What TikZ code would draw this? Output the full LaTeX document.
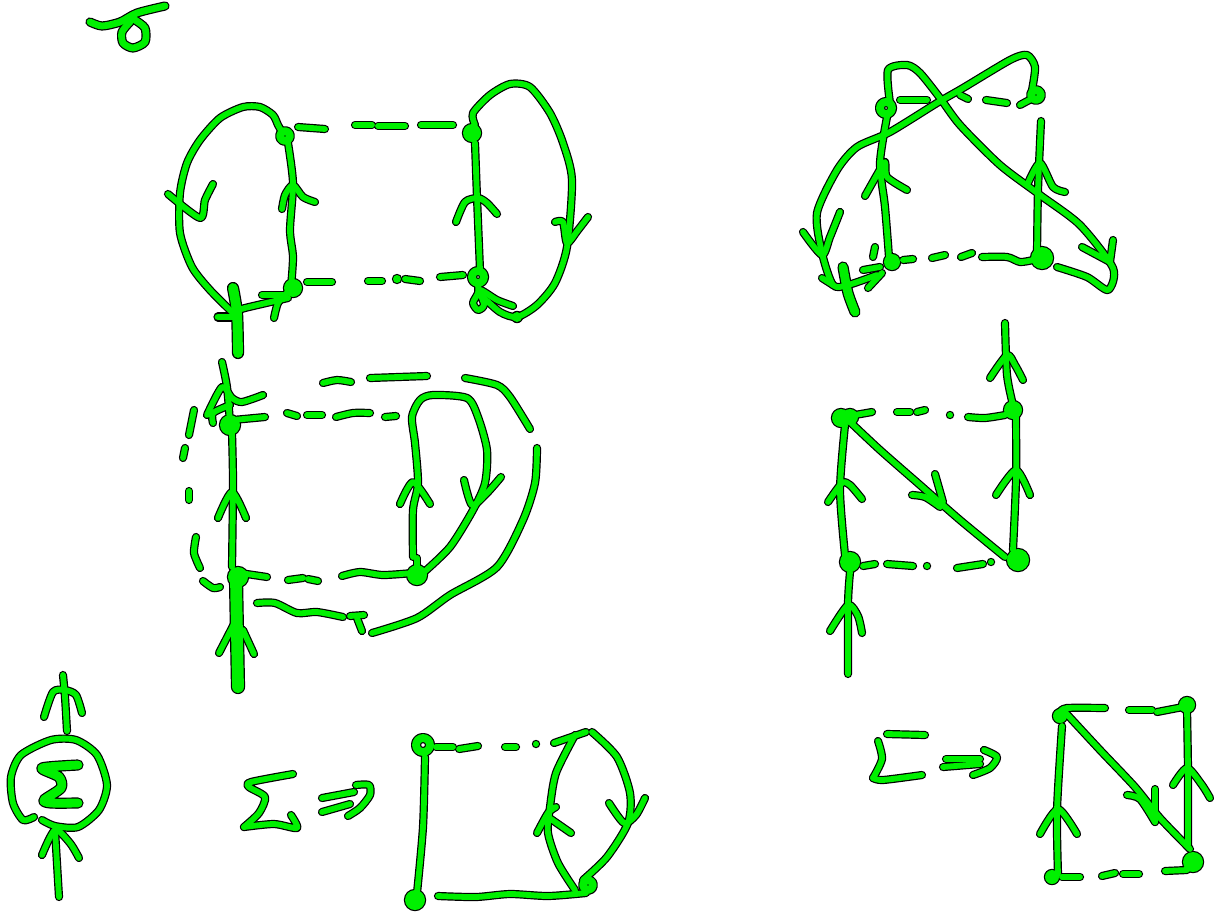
\documentclass[tikz,border=0pt]{standalone}
\definecolor{inkgreen}{RGB}{0,240,0}
\newcommand\skline[2][0]{\draw[line width=\skw+#1pt] plot[smooth,tension=.45] coordinates {#2};}
\newcommand\skblob[3]{\fill (#1,#2) circle[radius=#3pt+\skx];}
\newcommand\skring[3]{\draw[line width=\skw+2pt] (#1,#2) circle[radius=#3pt];}
\newcommand\skall{%
% top mark
\skline[1]{(90,22)(102,26)(120,22)(137,13)(165,6)}
\skline[1]{(130,22)(122,32)(123,43)(133,48)(145,42)(145,28)(135,20)}
% upper left diagram
\skline{(282,132)(278,125)(273,115)(260,107)(243,107)(220,118)(200,140)(187,163)(180,193)(180,233)(192,267)(210,290)(233,313)}
\skline{(168,194)(200,218)(205,200)(213,184)}
\skring{285}{136}{5}
\skline{(288,143)(293,183)(290,230)(293,257)(291,287)}
\skline{(282,209)(285,195)(293,185)(303,197)(315,202)}
\skline{(298,127)(325,129)}\skline{(355,125)(372,125)}\skline{(378,126)(405,126)}\skline{(421,125)(453,125)}
\skblob{472}{133}{9}
\skline{(475,125)(473,113)(490,95)(510,84)(530,87)(550,113)(563,143)(572,180)(567,247)(555,283)(537,305)(517,317)(500,312)(483,297)}
\skline{(555,222)(563,222)(567,243)(578,230)(588,217)}
\skline{(475,143)(477,197)(480,270)}
\skline{(456,222)(465,202)(478,198)(487,203)(497,214)}
\skline{(307,282)(332,282)}\skline{(368,281)(382,281)}\skblob{397}{279}{4}\skline{(405,279)(420,281)}\skline{(440,277)(463,275)}
\skblob{293}{288}{9}
\skring{478}{277}{6}
\skline{(478,285)(478,293)(473,303)(478,310)(484,305)(480,290)(497,300)(513,306)}
\skblob{517}{317}{5}
\skline{(233,312)(245,308)(288,298)}
\skline{(262,295)(283,295)}\skline{(274,318)(278,303)(287,293)}
\skline[4]{(233,288)(237,313)(238,353)}
\skline[1]{(218,317)(237,317)}
% middle left diagram
\skline{(222,362)(227,387)(230,423)}
\skline{(207,415)(222,387)(232,398)(242,402)(263,395)}
\skline{(213,423)(213,413)(230,405)}
\skblob{230}{425}{10}
\skline{(233,420)(265,417)}
\skline{(287,413)(297,416)}\skline{(307,415)(322,415)}\skline{(336,417)(353,413)(370,413)}\skline{(385,417)(396,416)}
\skline{(232,433)(233,483)(232,567)}
\skline{(218,518)(232,492)(246,518)}
\skblob{238}{577}{10}
\skline{(240,573)(267,577)}
\skline[6]{(236,580)(238,687)}
\skline{(219,653)(235,622)}\skline{(243,630)(254,654)}
\skline{(288,580)(303,578)}\skline{(308,579)(318,581)}\skline{(342,576)(360,572)(383,575)(413,573)}
\skblob{417}{575}{10}
\skline{(413,557)(413,510)(418,483)(415,443)(412,417)(420,400)(433,395)(467,398)(478,417)(487,450)(485,483)(473,510)(450,547)(423,573)}
\skline{(400,504)(413,482)(430,504)}
\skline{(464,480)(472,505)(487,493)(501,477)}
\skline{(417,558)(417,575)}
\skline{(323,383)(337,380)(351,382)}\skline{(370,378)(427,376)}
\skline{(465,378)(497,385)(510,397)(530,429)}
\skline{(537,448)(535,483)(523,520)(497,567)(450,595)(417,618)(372,633)}
\skline{(257,603)(275,603)(297,613)(317,612)(343,617)}
\skline{(350,616)(364,615)}\skline{(357,618)(362,631)}
\skline{(194,410)(189,435)}\skline{(185,448)(183,458)}\skline{(189,491)(189,500)}
\skline{(196,537)(194,553)(200,568)}\skline{(203,581)(213,588)(220,587)}
% upper right diagram
\skline{(890,103)(888,70)(907,65)(920,73)(940,98)(960,125)(1000,165)(1040,195)(1080,225)(1113,268)(1108,290)(1087,277)(1057,267)}
\skblob{1042}{258}{11}
\skline{(1082,247)(1110,262)}\skline{(1113,240)(1110,262)}
\skline{(1032,90)(1035,67)(1027,55)(1010,60)(963,88)(937,103)(890,132)(857,147)(837,170)(817,213)(822,253)(833,285)(848,285)(877,275)}
\skline{(803,232)(822,255)(830,237)(840,212)}
\skline[3]{(843,267)(848,293)(855,312)}
\skline{(822,278)(833,285)}
\skline{(863,270)(880,267)}\skline{(868,288)(882,273)}
\skblob{892}{262}{8}
\skline{(875,247)(873,257)}
\skline{(887,117)(880,163)(885,207)(889,257)}
\skline{(865,196)(878,173)(885,162)(887,177)(907,190)}
\skring{886}{108}{6}
\skline{(900,100)(927,100)}\skline{(960,95)(968,99)}\skline{(986,100)(1007,103)}\skline{(1020,105)(1033,98)}
\skring{1036}{95}{5}
\skline{(1041,121)(1038,190)(1037,253)}
\skline{(1028,183)(1040,163)(1053,187)(1065,192)}
\skline{(903,260)(913,259)}\skline{(932,258)(945,255)}\skline{(961,257)(972,253)}\skline{(982,257)(1007,257)(1020,262)(1033,260)}
% middle right diagram
\skline{(1005,323)(1007,375)(1013,405)}
\skline{(990,378)(1007,355)(1015,365)(1023,380)}
\skblob{1013}{410}{9}
\skline{(1016,415)(1016,480)(1013,550)}
\skline{(996,495)(1016,470)(1030,495)}
\skblob{1018}{560}{11}
\skblob{841}{418}{9}\skblob{850}{417}{8}
\skline{(855,415)(872,412)}\skline{(897,412)(910,412)}\skline{(917,412)(925,410)}\skblob{950}{415}{3}\skline{(968,417)(985,418)(1005,415)}
\skline{(848,420)(880,450)(920,485)(960,520)(1005,557)}
\skline{(935,474)(943,502)}\skline{(912,495)(925,497)(940,507)}
\skline{(845,425)(840,490)(845,555)}
\skline{(828,502)(842,483)(850,485)(862,499)}
\skblob{850}{562}{10}
\skline{(863,566)(875,564)}\skline{(887,564)(913,566)}\skblob{927}{566}{3}\skline{(957,568)(983,564)}\skblob{991}{562}{3}
\skline{(850,572)(848,603)(848,674)}
\skline{(830,631)(848,605)(858,616)(862,633)}
% lower right
\skline{(887,734)(925,735)}
\skline{(878,741)(882,759)(873,778)}\skline{(873,778)(883,780)(922,775)}
\skline{(946,759)(980,759)}\skline{(943,767)(980,764)}
\skline{(984,750)(997,757)(990,768)(973,775)}
\skblob{1060}{716}{7}
\skline{(1060,712)(1067,708)(1105,708)}\skline{(1129,710)(1152,710)}\skline{(1157,712)(1183,707)}
\skblob{1187}{705}{8}
\skline{(1062,726)(1057,810)(1058,874)}
\skline{(1040,834)(1058,809)(1077,834)}
\skblob{1052}{877}{7}
\skline{(1062,877)(1080,877)}\skline{(1102,876)(1115,873)}\skline{(1123,874)(1139,874)}\skline{(1165,871)(1187,870)}
\skblob{1193}{862}{10}
\skline{(1063,710)(1100,750)(1135,787)(1160,818)(1190,849)}
\skline{(1127,795)(1140,799)(1155,822)}\skline{(1155,789)(1155,822)}
\skline{(1187,710)(1188,772)(1188,845)}
\skline{(1173,785)(1187,768)(1202,785)(1210,798)}
% lower left circle
\skline{(63,675)(65,697)(67,731)}
\skline{(44,717)(53,692)(65,690)(76,695)(82,713)}
\skline{(34,817)(23,820)(13,803)(11,777)(21,755)(51,740)(76,740)(97,755)(107,785)(99,810)(78,827)(55,826)(42,820)}
\skline[3]{(78,765)(42,768)(59,777)(61,788)(44,800)(51,803)(78,803)}
\skline{(55,830)(59,897)}
\skline{(42,855)(55,830)(70,843)(79,858)}
% lower middle
\skline{(293,774)(251,782)(249,787)(265,797)(259,813)(244,827)}\skline{(244,827)(274,824)(297,828)(291,815)}
\skline{(322,798)(354,792)}\skline{(322,812)(350,804)}
\skline{(356,785)(369,785)(370,795)(360,808)(348,816)}
\skring{423}{745}{7}
\skline{(425,757)(423,827)(417,893)}
\skblob{415}{900}{10}
\skline{(436,747)(453,747)}\skline{(459,749)(478,746)}\skline{(505,747)(516,747)}\skblob{536}{744}{3}\skline{(554,743)(586,732)}
\skline{(575,735)(556,773)(550,807)(548,833)(558,863)(575,890)}
\skline{(537,833)(548,813)(556,807)}\skline{(548,817)(571,833)}
\skline{(592,732)(617,757)(630,793)(628,823)(607,857)(583,880)}
\skline{(609,803)(624,823)(636,815)(645,798)}
\skline{(438,896)(476,897)(510,894)(548,896)(586,893)}
\skring{588}{885}{5}
}
\begin{document}
\begin{tikzpicture}[x=1pt,y=-1pt,line cap=round,line join=round]
\fill[white] (0,0) rectangle (1214,913);
\path[use as bounding box] (0,0) rectangle (1214,913);
\begin{scope}[draw=black,fill=black]
\def\skw{8.2pt}\def\skx{1.2pt}
\skall
\end{scope}
\begin{scope}[draw=inkgreen,fill=inkgreen]
\def\skw{5.8pt}\def\skx{0pt}
\skall
\end{scope}
\end{tikzpicture}
\end{document}
